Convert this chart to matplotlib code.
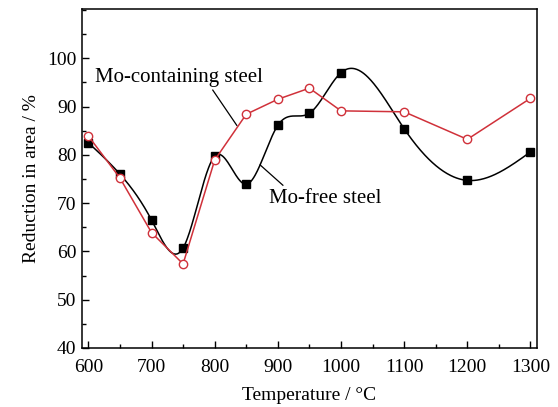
import numpy as np
import matplotlib
matplotlib.use("Agg")
import matplotlib.pyplot as plt
from matplotlib.ticker import MultipleLocator

plt.rcParams['font.family'] = ['Liberation Serif', 'DejaVu Serif']

temperature = [600, 650, 700, 750, 800, 850, 900, 950, 1000, 1100, 1200, 1300]
mo_free = [82.5, 76.0, 66.5, 60.7, 79.7, 73.9, 86.1, 88.6, 97.0, 85.4, 74.7, 80.6]
mo_containing = [83.9, 75.2, 63.9, 57.4, 78.9, 88.4, 91.5, 93.8, 89.1, 88.9, 83.2, 91.7]


def natural_spline(x, y, xs):
    # natural cubic spline through (x, y), evaluated at xs
    x = np.asarray(x, float)
    y = np.asarray(y, float)
    n = len(x)
    h = np.diff(x)
    A = np.zeros((n, n))
    b = np.zeros(n)
    A[0, 0] = A[-1, -1] = 1
    for i in range(1, n - 1):
        A[i, i - 1] = h[i - 1]
        A[i, i] = 2 * (h[i - 1] + h[i])
        A[i, i + 1] = h[i]
        b[i] = 6 * ((y[i + 1] - y[i]) / h[i] - (y[i] - y[i - 1]) / h[i - 1])
    m = np.linalg.solve(A, b)
    idx = np.clip(np.searchsorted(x, xs) - 1, 0, n - 2)
    x0, x1 = x[idx], x[idx + 1]
    hh = x1 - x0
    t0 = x1 - xs
    t1 = xs - x0
    return (m[idx] * t0**3 / (6 * hh) + m[idx + 1] * t1**3 / (6 * hh)
            + (y[idx] / hh - m[idx] * hh / 6) * t0
            + (y[idx + 1] / hh - m[idx + 1] * hh / 6) * t1)


fig = plt.figure(figsize=(5.58, 4.07), dpi=100)
ax = fig.add_axes([0.147, 0.145, 0.815, 0.833])

xs = np.linspace(temperature[0], temperature[-1], 600)
ax.plot(xs, natural_spline(temperature, mo_free, xs), color='black', lw=1.1)
ax.plot(temperature, mo_free, ls='none', marker='s', ms=6, color='black')

red = '#d0313a'
ax.plot(temperature, mo_containing, color=red, lw=1.1, marker='o', ms=6,
        mfc='white', mec=red, mew=1.0)

ax.text(611, 96.1, 'Mo-containing steel', fontsize=15, va='center', ha='left')
ax.plot([797, 835], [93.4, 86.1], color='black', lw=0.9)
ax.text(886, 71.0, 'Mo-free steel', fontsize=15, va='center', ha='left')
ax.plot([872, 908], [77.9, 73.7], color='black', lw=0.9)

ax.set_xlim(590, 1310)
ax.set_ylim(40, 110.2)
ax.set_xticks(range(600, 1301, 100))
ax.set_yticks(range(40, 101, 10))
ax.xaxis.set_minor_locator(MultipleLocator(50))
ax.yaxis.set_minor_locator(MultipleLocator(5))
ax.tick_params(which='both', direction='in', labelsize=14, width=1.0)
ax.tick_params(which='major', length=5)
ax.tick_params(which='minor', length=3)
ax.tick_params(axis='x', pad=8)
ax.tick_params(axis='y', pad=4)
for s in ax.spines.values():
    s.set_linewidth(1.1)

ax.set_xlabel('Temperature / °C', fontsize=14, labelpad=8)
ax.set_ylabel('Reduction in area / %', fontsize=14, labelpad=5)

fig.savefig('out.png', dpi=100)
